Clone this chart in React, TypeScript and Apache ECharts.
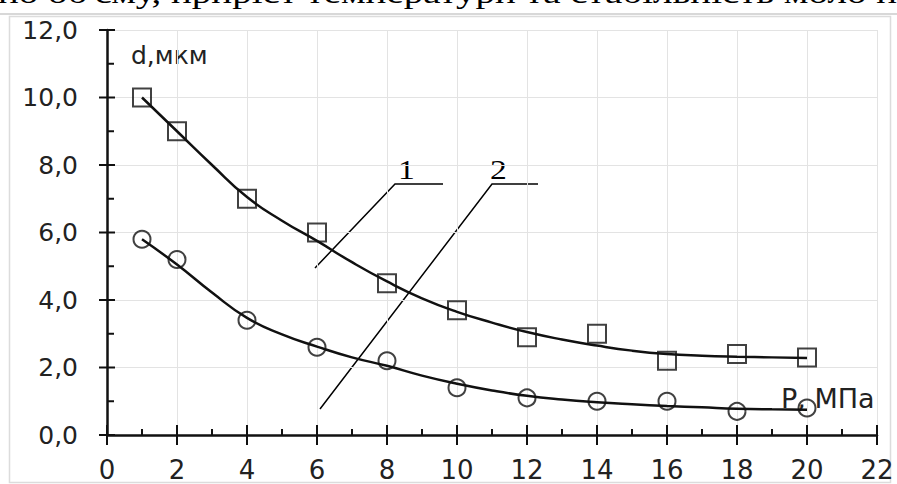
import React, { useEffect, useRef } from "react";
import * as echarts from "echarts";

// Pressure P, MPa
const pressure = [1, 2, 4, 6, 8, 10, 12, 14, 16, 18, 20];
// Curve 1 (squares), d, µm
const diameter1 = [10.0, 9.0, 7.0, 6.0, 4.5, 3.7, 2.9, 3.0, 2.2, 2.4, 2.3];
// Curve 2 (circles), d, µm
const diameter2 = [5.8, 5.2, 3.4, 2.6, 2.2, 1.4, 1.1, 1.0, 1.0, 0.7, 0.8];
// Fitted curves at every 1 MPa
const trendP = [1, 2, 3, 4, 5, 6, 7, 8, 9, 10, 11, 12, 13, 14, 15, 16, 17, 18, 19, 20];
const trend1 = [10.0, 9.0, 8.0, 7.05, 6.35, 5.75, 5.12, 4.55, 4.05, 3.65, 3.33, 3.05, 2.83, 2.65, 2.5, 2.4, 2.35, 2.32, 2.3, 2.28];
const trend2 = [5.8, 5.05, 4.22, 3.47, 2.98, 2.62, 2.3, 2.05, 1.76, 1.52, 1.32, 1.16, 1.05, 0.97, 0.91, 0.86, 0.82, 0.78, 0.76, 0.75];

// Axis tick values (major ticks cross the axis line, minor ticks point inward)
const xTicks = [0, 2, 4, 6, 8, 10, 12, 14, 16, 18, 20, 22];
const xMinorTicks = [1, 3, 5, 7, 9, 11, 13, 15, 17, 19, 21];
const yTicks = [0, 2, 4, 6, 8, 10, 12];
const yMinorTicks = [1, 3, 5, 7, 9, 11];

const topText = "по об'єму, приріст температури та стабільність моло пе";
const yName = "d,мкм";
const xName = "Р, МПа";
const curveLabels = ["1", "2"];

const INK = "#111111";
const LABEL = "#222222";
const GRIDC = "#e3e3e3";
const SANS = "DejaVu Sans";

export default function App() {
  const ref = useRef<HTMLDivElement>(null);
  useEffect(() => {
    if (!ref.current) return;
    const chart = echarts.init(ref.current, undefined, { renderer: "svg" });
    const pts = (xs: number[], ys: number[]) => xs.map((p, i) => [p, ys[i]]);
    const markerStyle = { color: "rgba(0,0,0,0)", borderColor: INK, borderWidth: 2 };
    const xMin = xTicks[0];
    const yMin = yTicks[0];
    const tickStyle = { stroke: INK, lineWidth: 2 };
    // item = [value, isMinor]
    const tickX = (_p: any, api: any) => {
      const c = api.coord([api.value(0), yMin]);
      const minor = api.value(1) === 1;
      return {
        type: "line",
        shape: { x1: c[0], y1: minor ? c[1] : c[1] + 10, x2: c[0], y2: minor ? c[1] - 6 : c[1] - 10 },
        style: tickStyle,
      };
    };
    const tickY = (_p: any, api: any) => {
      const c = api.coord([xMin, api.value(0)]);
      const minor = api.value(1) === 1;
      return {
        type: "line",
        shape: { x1: minor ? c[0] : c[0] - 8, y1: c[1], x2: minor ? c[0] + 7 : c[0] + 8, y2: c[1] },
        style: tickStyle,
      };
    };
    const tickData = (major: number[], minor: number[]) => [
      ...major.map((v) => [v, 0]),
      ...minor.map((v) => [v, 1]),
    ];
    chart.setOption({
      animation: false,
      backgroundColor: "#ffffff",
      grid: { left: 107, top: 30, width: 770, height: 405 },
      xAxis: {
        type: "value",
        min: xTicks[0],
        max: xTicks[xTicks.length - 1],
        interval: 2,
        axisLine: { show: true, onZero: false, lineStyle: { color: INK, width: 2.5 } },
        axisTick: { show: false },
        minorTick: { show: false },
        axisLabel: { fontFamily: SANS, fontSize: 26, color: LABEL, margin: 22 },
        splitLine: { lineStyle: { color: GRIDC, width: 1 } },
      },
      yAxis: {
        type: "value",
        min: yTicks[0],
        max: yTicks[yTicks.length - 1],
        interval: 2,
        axisLine: { show: true, onZero: false, lineStyle: { color: INK, width: 2.5 } },
        axisTick: { show: false },
        minorTick: { show: false },
        axisLabel: {
          fontFamily: SANS, fontSize: 25, color: LABEL, margin: 29,
          formatter: (v: number) => v.toFixed(1).replace(".", ","),
        },
        splitLine: { lineStyle: { color: GRIDC, width: 1 } },
      },
      series: [
        {
          type: "line", data: pts(trendP, trend1), smooth: true, showSymbol: false, symbol: "none",
          lineStyle: { color: INK, width: 2.5 }, z: 3,
        },
        {
          type: "line", data: pts(trendP, trend2), smooth: true, showSymbol: false, symbol: "none",
          lineStyle: { color: INK, width: 2.5 }, z: 3,
        },
        { type: "scatter", data: pts(pressure, diameter1), symbol: "rect", symbolSize: 18, itemStyle: markerStyle, z: 4 },
        { type: "scatter", data: pts(pressure, diameter2), symbol: "circle", symbolSize: 17, itemStyle: markerStyle, z: 4 },
        { type: "custom", clip: false, silent: true, data: tickData(xTicks, xMinorTicks), renderItem: tickX, z: 5 },
        { type: "custom", clip: false, silent: true, data: tickData(yTicks, yMinorTicks), renderItem: tickY, z: 5 },
      ],
      graphic: [
        { type: "rect", z: -10, shape: { x: 9.5, y: 16.5, width: 881, height: 466 }, style: { fill: "transparent", stroke: "#dcdcdc", lineWidth: 1.5 } },
        { type: "line", z: -10, shape: { x1: 0, y1: 14, x2: 897, y2: 14 }, style: { stroke: "#d8d8d8", lineWidth: 2 } },
        {
          type: "text", x: -2, y: 8, scaleX: 1.3,
          style: { text: topText, font: '30px "Liberation Serif"', fill: "#000", textVerticalAlign: "bottom" },
        },
        {
          type: "text", x: 131, y: 43,
          style: { text: yName, font: `25px "${SANS}"`, fill: LABEL, textVerticalAlign: "top" },
        },
        {
          type: "text", x: 781, y: 385,
          style: { text: xName, font: `27px "${SANS}"`, fill: LABEL, textVerticalAlign: "top" },
        },
        { type: "polyline", shape: { points: [[315, 268], [395, 184], [443, 184]] }, style: { stroke: "#000", lineWidth: 1.5, fill: "transparent" } },
        { type: "polyline", shape: { points: [[320, 409], [492, 184], [538, 184]] }, style: { stroke: "#000", lineWidth: 1.5, fill: "transparent" } },
        {
          type: "text", x: 398, y: 155, scaleX: 1.2,
          style: { text: curveLabels[0], font: '28px "Liberation Serif"', fill: "#000", textVerticalAlign: "top" },
        },
        {
          type: "text", x: 490, y: 155, scaleX: 1.2,
          style: { text: curveLabels[1], font: '28px "Liberation Serif"', fill: "#000", textVerticalAlign: "top" },
        },
      ],
    });
    return () => chart.dispose();
  }, []);
  return (
    <div
      ref={ref}
      style={{ position: "absolute", left: 0, top: 0, width: 897, height: 484, background: "#fff" }}
    />
  );
}
